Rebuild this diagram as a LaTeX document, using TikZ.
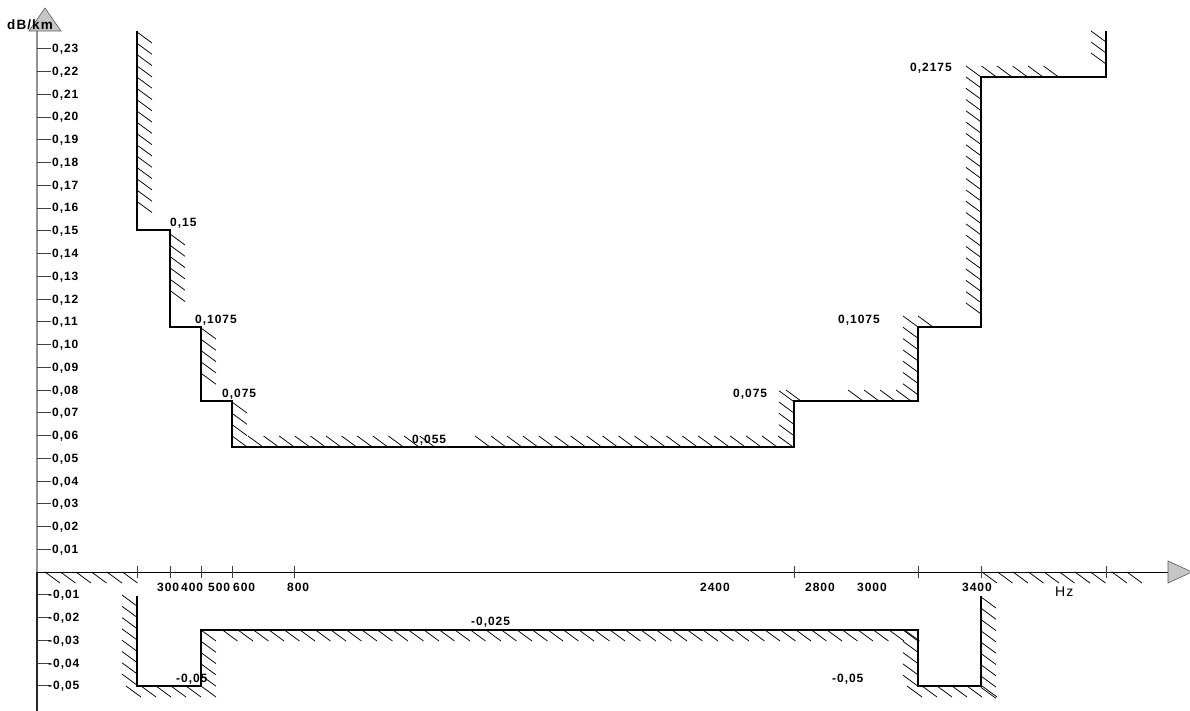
\documentclass[tikz,border=0pt]{standalone}
\usepackage{fontspec}
\newfontfamily\lsfont[LetterSpace=8]{Liberation Sans}
\newcommand\lblfont{\lsfont\bfseries\fontsize{12}{13}\selectfont}
\tikzset{
  stair/.style={line width=1.1pt, black, line join=miter},
  hatchln/.style={line width=0.75pt, black},
  axisln/.style={line width=1pt, black},
  tickln/.style={line width=0.9pt, black!75},
  lab/.style={font=\lblfont, inner sep=0pt, anchor=base west, text=black},
  arrowtri/.style={fill=gray!45, draw=gray!70!black, line width=0.6pt}
}
\begin{document}
\begin{tikzpicture}[x=1pt,y=-1pt]
\useasboundingbox (0,0) rectangle (1190,711);
% axes
\draw[line width=1.4pt, gray!85] (37,31) -- (37,572);
\draw[line width=1.4pt, black!85] (37,572) -- (37,711);
\draw[axisln] (37,572) -- (1168,572);
\draw[arrowtri] (29,31) -- (45,8) -- (61,31) -- cycle;
\draw[arrowtri] (1168,561) -- (1192,572) -- (1168,583) -- cycle;
\node[font=\lsfont\bfseries\fontsize{13.5}{15}\selectfont, inner sep=0pt, anchor=base west] (yunit) at (7,30) {dB/km};
\node[font=\lsfont\fontsize{14}{15}\selectfont, inner sep=0pt, anchor=base west] (xunit) at (1055,596) {Hz};
% y ticks and labels
\foreach \v/\t in {1/{0,01},2/{0,02},3/{0,03},4/{0,04},5/{0,05},6/{0,06},7/{0,07},8/{0,08},9/{0,09},10/{0,10},11/{0,11},12/{0,12},13/{0,13},14/{0,14},15/{0,15},16/{0,16},17/{0,17},18/{0,18},19/{0,19},20/{0,20},21/{0,21},22/{0,22},23/{0,23}}{
  \draw[tickln] (37,572-22.75*\v) -- (51,572-22.75*\v);
  \node[lab] (yp\v) at (52,576-22.75*\v) {\t};
}
\foreach \v/\t in {1/{-0,01},2/{-0,02},3/{-0,03},4/{-0,04},5/{-0,05}}{
  \draw[tickln] (37,572+22.75*\v) -- (50,572+22.75*\v);
  \node[lab] (yn\v) at (48,576+22.75*\v) {\t};
}
% x ticks
\foreach \x in {137,170,201,232,294,794,918,981,1106}{
  \draw[tickln] (\x,566) -- (\x,578);
}
\node[lab] (x300) at (157,591) {300};
\node[lab] (x400) at (181,591) {400};
\node[lab] (x500) at (208,591) {500};
\node[lab] (x600) at (233,591) {600};
\node[lab] (x800) at (287,591) {800};
\node[lab] (x2400) at (700,591) {2400};
\node[lab] (x2800) at (805,591) {2800};
\node[lab] (x3000) at (857,591) {3000};
\node[lab] (x3400) at (962,591) {3400};
% upper staircase
\draw[stair] (137,31) -- (137,230) -- (170,230) -- (170,327) -- (201,327) -- (201,401) -- (232,401) -- (232,447) -- (794,447) -- (794,401) -- (918,401) -- (918,327) -- (981,327) -- (981,77) -- (1106,77) -- (1106,31);
% lower staircase
\draw[stair] (137,596) -- (137,686) -- (201,686) -- (201,630) -- (918,630) -- (918,686) -- (981,686) -- (981,596);
% hatching: vertical, right side
\foreach \y in {32,43.3,...,203} \draw[hatchln] (137,\y) -- ++(15,11);
\foreach \y in {234,245.3,...,292} \draw[hatchln] (170,\y) -- ++(15,11);
\foreach \y in {328,339.3,...,375} \draw[hatchln] (201,\y) -- ++(15,11);
\foreach \y in {402,413.3,...,437} \draw[hatchln] (232,\y) -- ++(15,11);
\foreach \y in {630,641.3,...,678} \draw[hatchln] (201,\y) -- ++(15,11);
\foreach \y in {597,608.3,...,689} \draw[hatchln] (981,\y) -- ++(15,11);
% hatching: vertical, left side (ending on the line)
\foreach \y in {401.8,413.1,...,437} \draw[hatchln] (794,\y) -- ++(-15,-11);
\foreach \y in {327,338.3,...,396} \draw[hatchln] (918,\y) -- ++(-15,-11);
\foreach \y in {88,99.3,...,316} \draw[hatchln] (981,\y) -- ++(-15,-11);
\foreach \y in {42,53,64} \draw[hatchln] (1106,\y) -- ++(-15,-11);
\foreach \y in {606,617.3,...,687} \draw[hatchln] (137,\y) -- ++(-15,-11);
\foreach \y in {641,652.3,...,688} \draw[hatchln] (918,\y) -- ++(-15,-11);
% hatching: horizontal, top side (ending on the line)
\foreach \x in {263,278.6,...,435} \draw[hatchln] (\x,447) -- ++(-15,-11);
\foreach \x in {490,505.95,...,795} \draw[hatchln] (\x,447) -- ++(-15,-11);
\foreach \x in {801,863,879,895,911} \draw[hatchln] (\x,401) -- ++(-15,-11);
\draw[hatchln] (933,327) -- ++(-15,-11);
\foreach \x in {981,996.5,...,1060} \draw[hatchln] (\x,77) -- ++(-15,-11);
% hatching: horizontal, bottom side
\foreach \x in {126,141,...,202} \draw[hatchln] (\x,686) -- ++(15,11);
\foreach \x in {222.5,238,...,906} \draw[hatchln] (\x,630) -- ++(15,11);
\foreach \x in {907,922,...,983} \draw[hatchln] (\x,686) -- ++(15,11);
\foreach \x in {45,60.5,...,124} \draw[hatchln] (\x,572) -- ++(15,11);
\foreach \x in {982,997.5,...,1092} \draw[hatchln] (\x,572) -- ++(15,11);
\foreach \x in {1112,1127} \draw[hatchln] (\x,572) -- ++(15,11);
% value labels
\node[lab] (v15) at (170,227) {0,15};
\node[lab] (v1075a) at (195,323) {0,1075};
\node[lab] (v075a) at (222,397) {0,075};
\node[lab] (v055) at (412,443) {0,055};
\node[lab] (v075b) at (733,397) {0,075};
\node[lab] (v1075b) at (838,323) {0,1075};
\node[lab] (v2175) at (910,72) {0,2175};
\node[lab] (vm025) at (471,625) {-0,025};
\node[lab] (vm05a) at (176,682) {-0,05};
\node[lab] (vm05b) at (832,682) {-0,05};
\end{tikzpicture}
\end{document}
